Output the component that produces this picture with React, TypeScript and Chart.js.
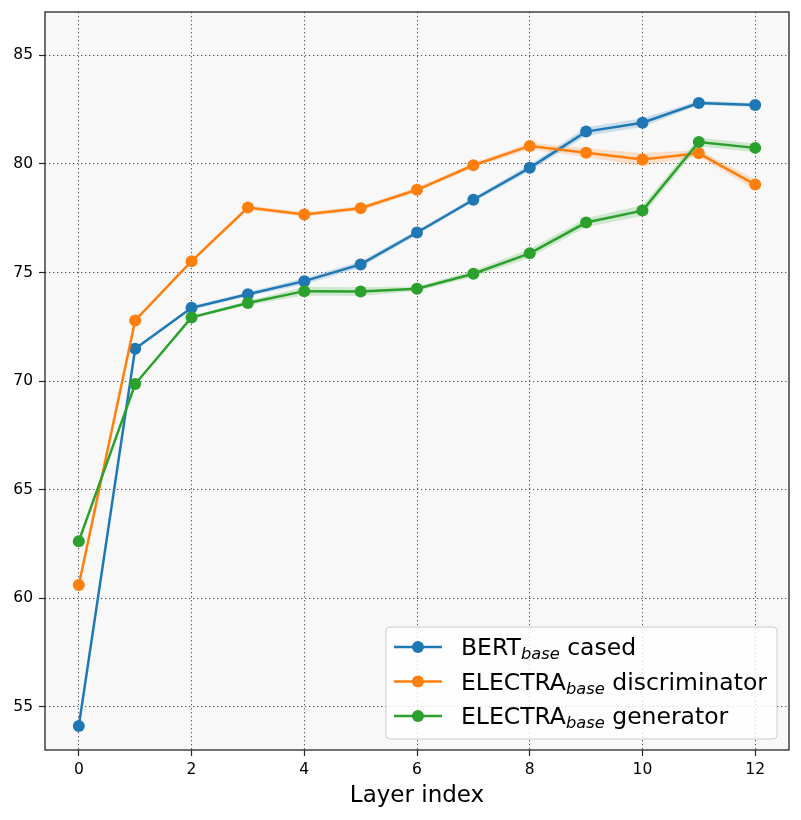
import { useEffect, useRef } from "react"
import { Chart, registerables } from "chart.js"

Chart.register(...registerables)

// layer indices and mean scores
const layers = [0, 1, 2, 3, 4, 5, 6, 7, 8, 9, 10, 11, 12]
const bertCased = [54.11, 71.49, 73.37, 74.0, 74.6, 75.37, 76.84, 78.35, 79.82, 81.49, 81.9, 82.81, 82.72]
const electraDisc = [60.6, 72.79, 75.52, 77.99, 77.67, 77.96, 78.81, 79.94, 80.83, 80.52, 80.2, 80.49, 79.05]
const electraGen = [62.62, 69.86, 72.93, 73.59, 74.14, 74.12, 74.25, 74.94, 75.88, 77.3, 77.85, 81.01, 80.74]

// half width of the shaded bands (estimated)
const bertSpread = [0.05, 0.05, 0.1, 0.1, 0.15, 0.15, 0.1, 0.1, 0.15, 0.2, 0.2, 0.1, 0.1]
const discSpread = [0.05, 0.05, 0.05, 0.1, 0.1, 0.1, 0.1, 0.1, 0.15, 0.2, 0.3, 0.15, 0.25]
const genSpread = [0.05, 0.05, 0.05, 0.1, 0.2, 0.2, 0.1, 0.15, 0.2, 0.2, 0.25, 0.2, 0.2]

const xTicks = [0, 2, 4, 6, 8, 10, 12]
const yTicks = [55, 60, 65, 70, 75, 80, 85]

const series = [
  { main: "BERT", sub: "base", rest: " cased", values: bertCased, spread: bertSpread, color: "#1f77b4", band: "rgba(31,119,180,0.2)" },
  { main: "ELECTRA", sub: "base", rest: " discriminator", values: electraDisc, spread: discSpread, color: "#ff7f0e", band: "rgba(255,127,14,0.2)" },
  { main: "ELECTRA", sub: "base", rest: " generator", values: electraGen, spread: genSpread, color: "#2ca02c", band: "rgba(44,160,44,0.2)" },
]

const FONT = "'DejaVu Sans', sans-serif"

const frame = {
  id: "frame",
  beforeDraw(chart: any) {
    const { ctx, chartArea: a } = chart
    ctx.save()
    ctx.fillStyle = "#f8f8f8"
    ctx.fillRect(a.left, a.top, a.right - a.left, a.bottom - a.top)
    ctx.restore()
  },
  afterDatasetsDraw(chart: any) {
    const { ctx, chartArea: a } = chart
    ctx.save()
    ctx.strokeStyle = "#262626"
    ctx.lineWidth = 1.3
    ctx.strokeRect(a.left, a.top, a.right - a.left, a.bottom - a.top)
    ctx.restore()
  },
}

const mathLegend = {
  id: "mathLegend",
  afterDraw(chart: any) {
    const { ctx, chartArea: a } = chart
    const big = `23.5px ${FONT}`
    const small = `italic 16.3px ${FONT}`
    ctx.save()
    const widths = series.map((s) => {
      ctx.font = big
      const w1 = ctx.measureText(s.main).width + ctx.measureText(s.rest).width
      ctx.font = small
      return w1 + ctx.measureText(s.sub).width
    })
    const boxW = 8 + 48 + 19 + Math.max(...widths) + 10
    const boxH = 112
    const x0 = a.right - 12 - boxW
    const y0 = a.bottom - 11 - boxH
    ctx.beginPath()
    ctx.roundRect(x0, y0, boxW, boxH, 4)
    ctx.fillStyle = "rgba(255,255,255,0.8)"
    ctx.fill()
    ctx.strokeStyle = "#cccccc"
    ctx.lineWidth = 1
    ctx.stroke()
    series.forEach((s, i) => {
      const cy = y0 + 20 + i * 34.5
      ctx.strokeStyle = s.color
      ctx.lineWidth = 2.5
      ctx.beginPath()
      ctx.moveTo(x0 + 8, cy)
      ctx.lineTo(x0 + 56, cy)
      ctx.stroke()
      ctx.fillStyle = s.color
      ctx.beginPath()
      ctx.arc(x0 + 32, cy, 6, 0, Math.PI * 2)
      ctx.fill()
      ctx.fillStyle = "#000"
      ctx.textBaseline = "alphabetic"
      ctx.textAlign = "left"
      let tx = x0 + 75
      const base = cy + 8
      ctx.font = big
      ctx.fillText(s.main, tx, base)
      tx += ctx.measureText(s.main).width
      ctx.font = small
      ctx.fillText(s.sub, tx, base + 4)
      tx += ctx.measureText(s.sub).width
      ctx.font = big
      ctx.fillText(s.rest, tx, base)
    })
    ctx.restore()
  },
}

export default function App() {
  const canvasRef = useRef<HTMLCanvasElement>(null)
  const chartRef = useRef<Chart | null>(null)

  useEffect(() => {
    document.body.style.margin = "0"
    if (!canvasRef.current) return
    if (chartRef.current) chartRef.current.destroy()

    const datasets: any[] = []
    series.forEach((s) => {
      datasets.push({
        data: layers.map((x, i) => ({ x, y: s.values[i] - s.spread[i] })),
        borderWidth: 0,
        pointRadius: 0,
        fill: false,
        order: 10,
      })
      datasets.push({
        data: layers.map((x, i) => ({ x, y: s.values[i] + s.spread[i] })),
        borderWidth: 0,
        pointRadius: 0,
        backgroundColor: s.band,
        fill: "-1",
        order: 10,
      })
    })
    series.forEach((s, k) => {
      datasets.push({
        label: s.main + s.sub + s.rest,
        data: layers.map((x, i) => ({ x, y: s.values[i] })),
        borderColor: s.color,
        backgroundColor: s.color,
        borderWidth: 2.5,
        pointRadius: 6,
        pointBorderWidth: 0,
        pointBackgroundColor: s.color,
        fill: false,
        order: 3 - k,
      })
    })

    const gridOpts = { color: "#555", lineWidth: 1, tickLength: 6, tickColor: "#262626", tickWidth: 1.2, tickBorderDash: [] }
    const borderOpts = { display: false, dash: [1.3, 2.7] }

    chartRef.current = new Chart(canvasRef.current, {
      type: "line",
      data: { datasets },
      options: {
        animation: false,
        responsive: true,
        maintainAspectRatio: false,
        layout: { padding: { left: 0, top: 12, right: 12, bottom: 0 } },
        plugins: {
          legend: { display: false },
          tooltip: { enabled: false },
        },
        scales: {
          x: {
            type: "linear",
            min: -0.6,
            max: 12.6,
            afterBuildTicks: (scale: any) => {
              scale.ticks = xTicks.map((v) => ({ value: v }))
            },
            afterFit: (scale: any) => {
              scale.height = 70
            },
            ticks: { color: "#000", font: { family: FONT, size: 15.5 }, padding: 5, maxRotation: 0 },
            grid: gridOpts,
            border: borderOpts,
            title: {
              display: true,
              text: "Layer index",
              color: "#000",
              font: { family: FONT, size: 23 },
              padding: { top: 0, bottom: 10 },
            },
          },
          y: {
            type: "linear",
            min: 53,
            max: 87,
            afterBuildTicks: (scale: any) => {
              scale.ticks = yTicks.map((v) => ({ value: v }))
            },
            afterFit: (scale: any) => {
              scale.width = 45
              scale.paddingTop = 0
              scale.paddingBottom = 0
            },
            ticks: { color: "#000", font: { family: FONT, size: 15.5 }, padding: 6 },
            grid: gridOpts,
            border: borderOpts,
          },
        },
      },
      plugins: [frame, mathLegend],
    })

    return () => {
      if (chartRef.current) {
        chartRef.current.destroy()
        chartRef.current = null
      }
    }
  }, [])

  return (
    <div style={{ width: 801, height: 820, position: "relative" }}>
      <canvas ref={canvasRef}></canvas>
    </div>
  )
}
